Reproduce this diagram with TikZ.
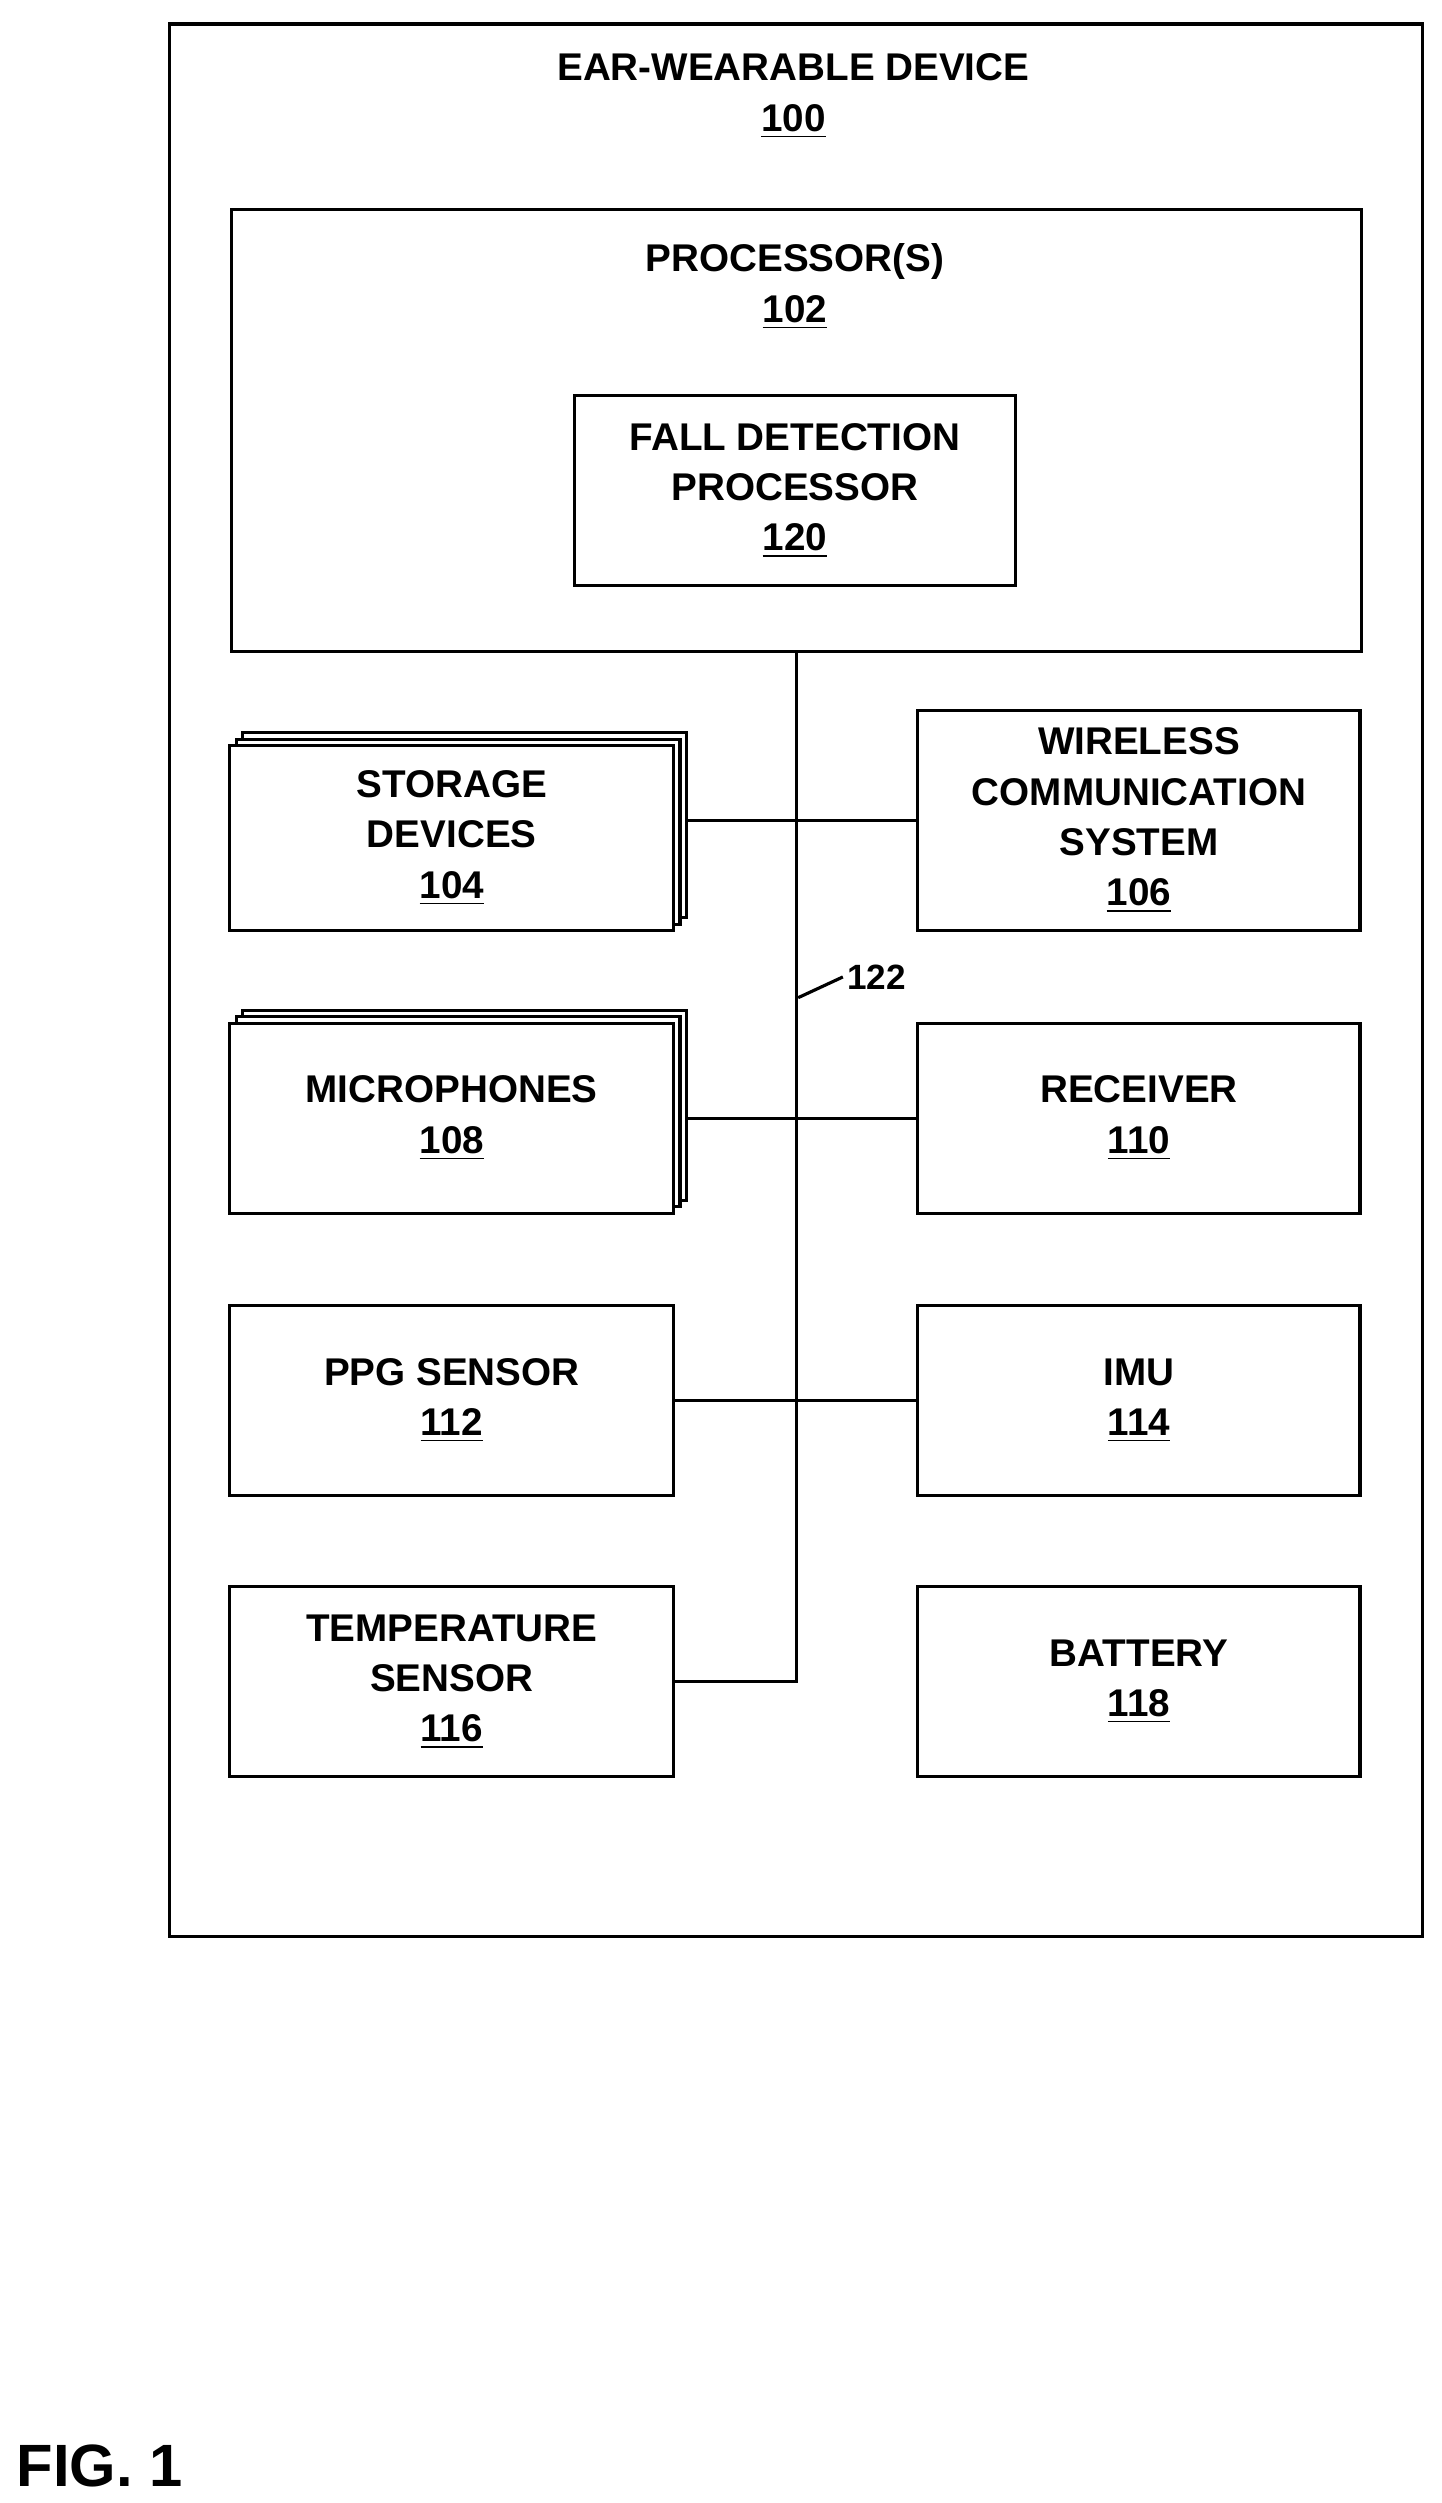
\documentclass[tikz,border=0pt]{standalone}
\usepackage{fontspec}
\setmainfont{Liberation Sans}
\usetikzlibrary{shadows}
\pgfmathsetmacro{\u}{0.01597}
\tikzset{
  box/.style={draw, line width=0.9pt, fill=white, align=center, font=\bfseries\fontsize{11}{14.3}\selectfont, inner sep=0pt},
  stack/.style={box, double copy shadow={shadow xshift=4*\u cm, shadow yshift=4*\u cm, draw, line width=0.9pt, fill=white}},
  bus/.style={line width=0.9pt},
}
\begin{document}
\begin{tikzpicture}[x=\u cm, y=-\u cm]
\useasboundingbox (0,0) rectangle (903,1568);
% outer device
\node[box, minimum width=785*\u cm, minimum height=1198*\u cm, anchor=north west] (dev) at (105,14) {};
\node[font=\bfseries\fontsize{11}{14.3}\selectfont, align=center, anchor=north] (devl) at (497,26) {EAR-WEARABLE DEVICE\\\underline{100}};
% processor
\node[box, minimum width=708*\u cm, minimum height=277*\u cm, anchor=north west] (proc) at (144,130) {};
\node[font=\bfseries\fontsize{11}{14.3}\selectfont, align=center, anchor=north] (procl) at (498,145) {PROCESSOR(S)\\\underline{102}};
\node[box, minimum width=276*\u cm, minimum height=119*\u cm] (fall) at (498,307.5) {FALL DETECTION\\PROCESSOR\\\underline{120}};
% left column
\node[stack, minimum width=278*\u cm, minimum height=116*\u cm] (stor) at (283,525) {STORAGE\\DEVICES\\\underline{104}};
\node[stack, minimum width=278*\u cm, minimum height=119*\u cm] (mic) at (283,700.5) {MICROPHONES\\\underline{108}};
\node[box, minimum width=278*\u cm, minimum height=119*\u cm] (ppg) at (283,877.5) {PPG SENSOR\\\underline{112}};
\node[box, minimum width=278*\u cm, minimum height=119*\u cm] (temp) at (283,1053.5) {TEMPERATURE\\SENSOR\\\underline{116}};
% right column
\node[box, minimum width=277*\u cm, minimum height=138*\u cm] (wire) at (713.5,514) {WIRELESS\\COMMUNICATION\\SYSTEM\\\underline{106}};
\node[box, minimum width=277*\u cm, minimum height=119*\u cm] (recv) at (713.5,700.5) {RECEIVER\\\underline{110}};
\node[box, minimum width=277*\u cm, minimum height=119*\u cm] (imu) at (713.5,877.5) {IMU\\\underline{114}};
\node[box, minimum width=277*\u cm, minimum height=119*\u cm] (batt) at (713.5,1053.5) {BATTERY\\\underline{118}};
% bus 122
\draw[bus] (proc.south) |- (temp.east);
\draw[bus] ([xshift=8*\u cm]wire.west -| stor.east) -- (wire.west);
\draw[bus] ([xshift=8*\u cm]mic.east) -- (recv.west);
\draw[bus] (ppg.east) -- (imu.west);
\coordinate (tick) at (500,625);
\node[font=\bfseries\fontsize{10}{12}\selectfont, anchor=west, inner sep=1pt] (busl) at (528,612) {122};
\draw[bus] (tick) -- (busl.west);
% figure label
\node[font=\bfseries\fontsize{17}{20}\selectfont, anchor=west, inner sep=0pt] (fig) at (10,1545) {FIG. 1};
\end{tikzpicture}
\end{document}
